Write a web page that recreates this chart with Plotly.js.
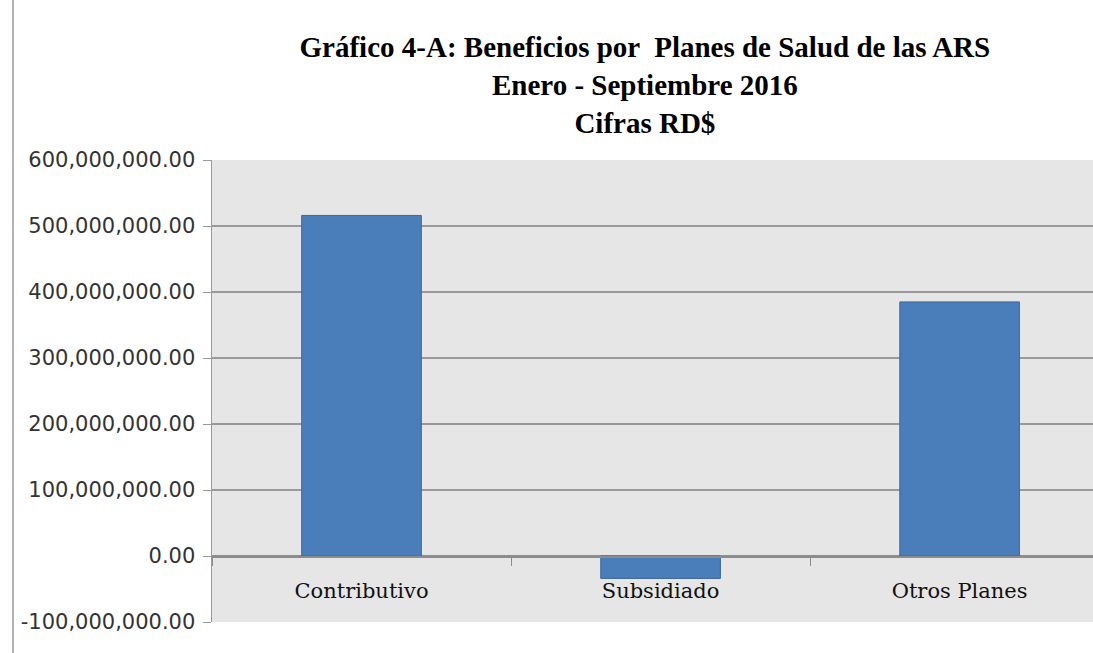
<!DOCTYPE html>
<html>
<head>
<meta charset="utf-8">
<script src="https://cdn.plot.ly/plotly-3.0.1.min.js"></script>
<style>html,body{margin:0;padding:0;background:#fff;}#chart{width:1093px;height:653px;}</style>
</head>
<body>
<div id="chart"></div>
<script>
var categories = ["Contributivo", "Subsidiado", "Otros Planes"];
var beneficios = [516000000, -34000000, 385000000];
var tickValues = [-100000000, 0, 100000000, 200000000, 300000000, 400000000, 500000000, 600000000];
var tickLabels = ["-100,000,000.00", "0.00", "100,000,000.00", "200,000,000.00", "300,000,000.00", "400,000,000.00", "500,000,000.00", "600,000,000.00"];
var titleText = "<b>Gráfico 4-A: Beneficios por  Planes de Salud de las ARS<br>Enero - Septiembre 2016<br>Cifras RD$</b>";

var trace = {
  type: "bar",
  x: categories,
  y: beneficios,
  marker: {color: "#4a7ebb", line: {color: "#3b679c", width: 1}},
  hoverinfo: "x+y"
};

var layout = {
  width: 1093, height: 653,
  margin: {l: 212, r: 0, t: 160, b: 31},
  paper_bgcolor: "#ffffff",
  plot_bgcolor: "#e6e6e6",
  showlegend: false,
  bargap: 0.6,
  title: {
    text: titleText,
    font: {family: "Liberation Serif", size: 29, color: "#000"},
    x: 0.59, xanchor: "center", y: 0.912, yanchor: "top"
  },
  xaxis: {
    type: "category",
    range: [-0.5, 2.446],
    anchor: "free",
    position: 100 / 700,
    showline: true, linecolor: "#8c8c8c", linewidth: 1.5,
    showgrid: false, zeroline: false,
    ticks: "outside", tickson: "boundaries", ticklen: 8, tickcolor: "#8c8c8c",
    ticklabelstandoff: 15,
    tickfont: {family: "DejaVu Serif", size: 21, color: "#111"}
  },
  yaxis: {
    range: [-100000000, 600000000],
    tickmode: "array", tickvals: tickValues, ticktext: tickLabels,
    showgrid: true, gridcolor: "#9a9a9a", gridwidth: 1.5,
    zeroline: true, zerolinecolor: "#8c8c8c", zerolinewidth: 1.5,
    showline: true, linecolor: "#9a9a9a", linewidth: 1.5,
    ticks: "outside", ticklen: 8, tickcolor: "#9a9a9a",
    ticklabelstandoff: 3,
    tickfont: {family: "DejaVu Sans", size: 21, color: "#333"}
  },
  shapes: [{
    type: "line", xref: "paper", yref: "paper",
    x0: (13 - 212) / 881, x1: (13 - 212) / 881,
    y0: -31 / 462, y1: 1 + 160 / 462,
    line: {color: "#999", width: 1.5}
  }]
};

Plotly.newPlot("chart", [trace], layout, {displayModeBar: false, staticPlot: true});
</script>
</body>
</html>
